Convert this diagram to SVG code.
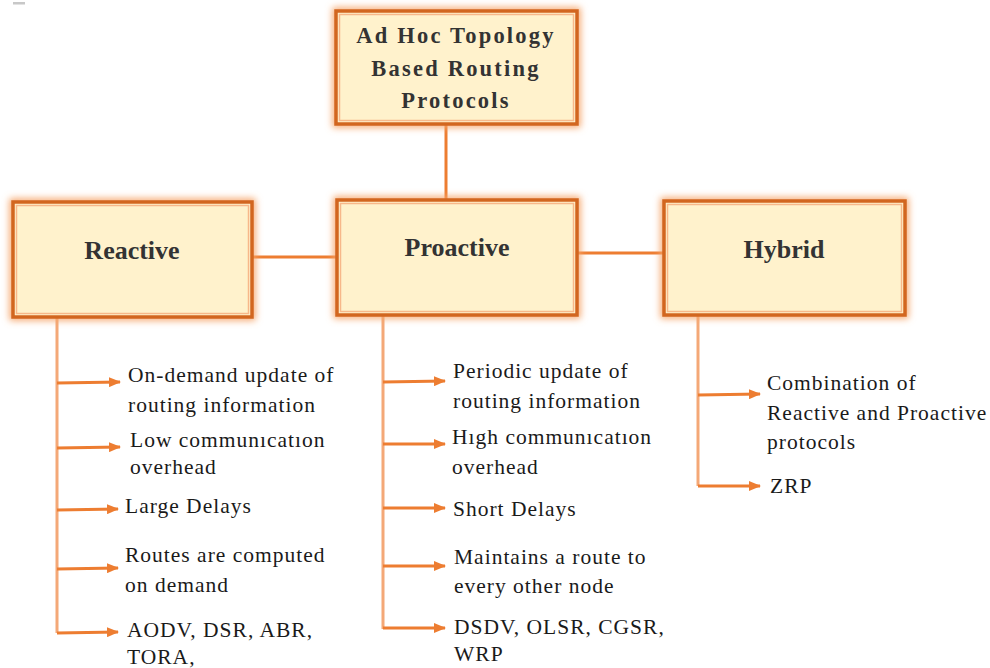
<svg xmlns="http://www.w3.org/2000/svg" width="990" height="668" viewBox="0 0 990 668">
<defs>
<filter id="glow" x="-20%" y="-20%" width="140%" height="140%">
<feGaussianBlur stdDeviation="3.5"/>
</filter>
<marker id="arr" markerWidth="12" markerHeight="10" refX="11" refY="5" orient="auto" markerUnits="userSpaceOnUse">
<path d="M0,0 L12,5 L0,10 Z" fill="#ed7d31"/>
</marker>
<style>
.glow{fill:none;stroke:#f6a56b;stroke-width:7;filter:url(#glow)}
.box{fill:#fff2cc;stroke:#d2661f;stroke-width:3.5}
.inner{fill:none;stroke:#f7b88a;stroke-width:1.5}
.link{stroke:#ed7d31;stroke-width:3;fill:none}
.trunk{stroke:#f4a877;stroke-width:3;fill:none}
.arrow{stroke:#ed7d31;stroke-width:3;fill:none;marker-end:url(#arr)}
</style>
</defs>
<rect width="990" height="668" fill="#ffffff"/>
<rect x="13" y="2" width="12" height="2.5" fill="#c8c8c8"/>

<g id="connectors">
<line class="link" x1="446" y1="125" x2="446" y2="200"/>
<line class="link" x1="252" y1="257" x2="337" y2="257"/>
<line class="link" x1="577" y1="253" x2="664" y2="253"/>
<line class="trunk" x1="57" y1="318" x2="57" y2="633"/>
<line class="trunk" x1="383" y1="316" x2="383" y2="629"/>
<line class="trunk" x1="698" y1="316" x2="698" y2="486"/>
<line class="arrow" x1="57" y1="383" x2="120" y2="382"/>
<line class="arrow" x1="57" y1="448" x2="120" y2="447"/>
<line class="arrow" x1="57" y1="510" x2="118" y2="509"/>
<line class="arrow" x1="57" y1="569" x2="118" y2="568"/>
<line class="arrow" x1="57" y1="633" x2="118" y2="632"/>
<line class="arrow" x1="383" y1="382" x2="445" y2="381"/>
<line class="arrow" x1="383" y1="444" x2="445" y2="444"/>
<line class="arrow" x1="383" y1="508" x2="445" y2="508"/>
<line class="arrow" x1="383" y1="566" x2="445" y2="566"/>
<line class="arrow" x1="383" y1="628" x2="445" y2="628"/>
<line class="arrow" x1="698" y1="395" x2="760" y2="394"/>
<line class="arrow" x1="698" y1="486" x2="760" y2="486"/>
</g>

<g id="root">
<rect class="glow" x="336" y="11" width="241" height="113"/>
<rect class="box" x="336" y="11" width="241" height="113"/>
<rect class="inner" x="339.5" y="14.5" width="234" height="106"/>
<text x="456" y="43" font-family="Liberation Serif" font-weight="bold" font-size="22.5" fill="#333333" text-anchor="middle" letter-spacing="2.2">Ad Hoc Topology</text>
<text x="456" y="76" font-family="Liberation Serif" font-weight="bold" font-size="22.5" fill="#333333" text-anchor="middle" letter-spacing="2.2">Based Routing</text>
<text x="456" y="108" font-family="Liberation Serif" font-weight="bold" font-size="22.5" fill="#333333" text-anchor="middle" letter-spacing="2.2">Protocols</text>
</g>

<g id="reactive">
<rect class="glow" x="13" y="202" width="239" height="115"/>
<rect class="box" x="13" y="202" width="239" height="115"/>
<rect class="inner" x="16.5" y="205.5" width="232" height="108"/>
<text x="132" y="259" font-family="Liberation Serif" font-weight="bold" font-size="26" fill="#333333" text-anchor="middle">Reactive</text>
</g>

<g id="proactive">
<rect class="glow" x="337" y="200" width="240" height="115"/>
<rect class="box" x="337" y="200" width="240" height="115"/>
<rect class="inner" x="340.5" y="203.5" width="233" height="108"/>
<text x="457" y="256" font-family="Liberation Serif" font-weight="bold" font-size="26" fill="#333333" text-anchor="middle">Proactive</text>
</g>

<g id="hybrid">
<rect class="glow" x="664" y="201" width="241" height="114"/>
<rect class="box" x="664" y="201" width="241" height="114"/>
<rect class="inner" x="667.5" y="204.5" width="234" height="107"/>
<text x="784" y="258" font-family="Liberation Serif" font-weight="bold" font-size="26" fill="#333333" text-anchor="middle">Hybrid</text>
</g>

<g id="reactive-items" fill="#1a1a1a">
<text x="128" y="382" font-family="Liberation Serif" font-size="21.5" letter-spacing="1">On-demand update of</text>
<text x="128" y="412" font-family="Liberation Serif" font-size="21.5" letter-spacing="1">routing information</text>
<text x="130" y="447" font-family="Liberation Serif" font-size="21.5" letter-spacing="1">Low communıcatıon</text>
<text x="130" y="474" font-family="Liberation Serif" font-size="21.5" letter-spacing="1">overhead</text>
<text x="125" y="513" font-family="Liberation Serif" font-size="21.5" letter-spacing="1">Large Delays</text>
<text x="125" y="562" font-family="Liberation Serif" font-size="21.5" letter-spacing="1">Routes are computed</text>
<text x="125" y="592" font-family="Liberation Serif" font-size="21.5" letter-spacing="1">on demand</text>
<text x="127" y="637" font-family="Liberation Serif" font-size="21.5" letter-spacing="1">AODV, DSR, ABR,</text>
<text x="127" y="664" font-family="Liberation Serif" font-size="21.5" letter-spacing="1">TORA,</text>
</g>

<g id="proactive-items" fill="#1a1a1a">
<text x="453" y="378" font-family="Liberation Serif" font-size="21.5" letter-spacing="1">Periodic update of</text>
<text x="453" y="408" font-family="Liberation Serif" font-size="21.5" letter-spacing="1">routing information</text>
<text x="452" y="444" font-family="Liberation Serif" font-size="21.5" letter-spacing="1">Hıgh communıcatıon</text>
<text x="452" y="474" font-family="Liberation Serif" font-size="21.5" letter-spacing="1">overhead</text>
<text x="453" y="516" font-family="Liberation Serif" font-size="21.5" letter-spacing="1">Short Delays</text>
<text x="454" y="564" font-family="Liberation Serif" font-size="21.5" letter-spacing="1">Maintains a route to</text>
<text x="454" y="593" font-family="Liberation Serif" font-size="21.5" letter-spacing="1">every other node</text>
<text x="454" y="634" font-family="Liberation Serif" font-size="21.5" letter-spacing="1">DSDV, OLSR, CGSR,</text>
<text x="454" y="661" font-family="Liberation Serif" font-size="21.5" letter-spacing="1">WRP</text>
</g>

<g id="hybrid-items" fill="#1a1a1a">
<text x="767" y="390" font-family="Liberation Serif" font-size="21.5" letter-spacing="1">Combination of</text>
<text x="767" y="420" font-family="Liberation Serif" font-size="21.5" letter-spacing="1">Reactive and Proactive</text>
<text x="767" y="449" font-family="Liberation Serif" font-size="21.5" letter-spacing="1">protocols</text>
<text x="770" y="493" font-family="Liberation Serif" font-size="21.5" letter-spacing="1">ZRP</text>
</g>
</svg>
